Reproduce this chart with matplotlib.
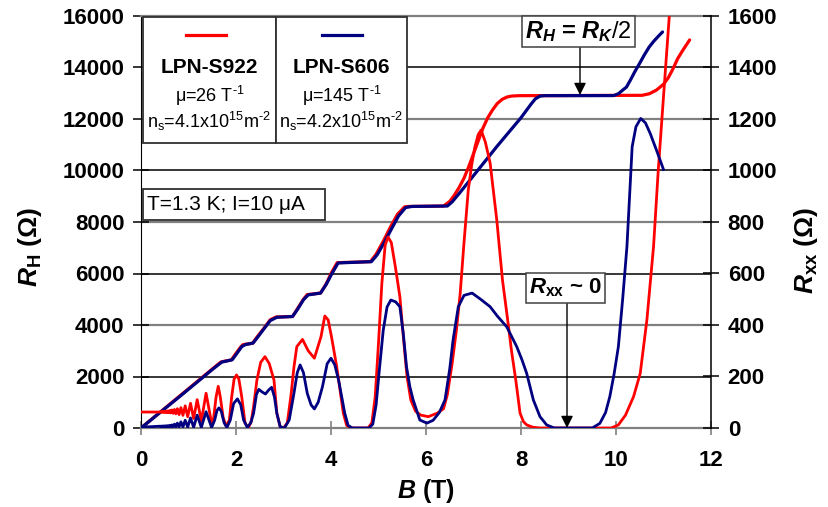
import matplotlib
matplotlib.use("Agg")
import matplotlib.pyplot as plt
from matplotlib.patches import Rectangle

plt.rcParams['font.family'] = ['Liberation Sans', 'DejaVu Sans']
plt.rcParams['mathtext.fontset'] = 'custom'
plt.rcParams['mathtext.rm'] = 'Liberation Sans'
plt.rcParams['mathtext.it'] = 'Liberation Sans:bold:italic'
plt.rcParams['mathtext.bf'] = 'Liberation Sans:bold'

RED = '#FF0000'
BLUE = '#000080'

# ---------------- data ----------------
B_RH_red = [0, 0.4, 0.8, 1.2, 1.5, 1.68, 1.75, 1.9, 2.0, 2.1, 2.15, 2.35, 2.45, 2.6, 2.72, 2.84, 3.19,
            3.3, 3.42, 3.5, 3.78, 3.9, 4.0, 4.13, 4.83, 4.95, 5.1, 5.25, 5.4, 5.55, 5.65, 6.37, 6.5,
            6.6, 6.7, 6.8, 6.9, 7.0, 7.1, 7.2, 7.3, 7.4, 7.5, 7.6, 7.7, 7.8, 7.95, 10.55, 10.7, 10.85,
            11.0, 11.1, 11.2, 11.3, 11.4, 11.55]
RH_red = [0, 610, 1220, 1830, 2290, 2560, 2590, 2640, 2900, 3150, 3240, 3290, 3550, 3900, 4200, 4310, 4330,
          4650, 5000, 5180, 5240, 5600, 6000, 6420, 6460, 6750, 7250, 7800, 8300, 8590, 8604, 8620, 8800,
          9050, 9350, 9700, 10150, 10650, 11150, 11650, 12050, 12350, 12600, 12760, 12850, 12890, 12906,
          12920, 12980, 13120, 13350, 13600, 13950, 14350, 14650, 15070]

B_RH_blue = [0, 0.4, 0.8, 1.2, 1.5, 1.7, 1.8, 1.92, 2.02, 2.12, 2.2, 2.36, 2.47, 2.6, 2.72, 2.86, 3.19,
             3.3, 3.42, 3.52, 3.78, 3.9, 4.02, 4.15, 4.85, 4.97, 5.12, 5.27, 5.42, 5.57, 5.7, 6.45, 6.55,
             6.7, 7.0, 7.5, 8.0, 8.2, 8.3, 8.4, 8.5, 9.95, 10.05, 10.14, 10.22, 10.3, 10.4, 10.5, 10.6,
             10.7, 10.8, 10.9, 10.98]
RH_blue = [0, 600, 1200, 1810, 2270, 2560, 2600, 2650, 2900, 3160, 3240, 3300, 3560, 3880, 4170, 4300, 4330,
           4620, 4980, 5170, 5240, 5580, 6000, 6410, 6460, 6720, 7200, 7720, 8230, 8560, 8604, 8620, 8780,
           9110, 9800, 10950, 12050, 12550, 12780, 12890, 12906, 12910, 12980, 13120, 13240, 13500, 13850,
           14170, 14500, 14800, 15030, 15230, 15380]

B_Rxx_red = [0, 0.15, 0.3, 0.38,
             0.407, 0.417, 0.427, 0.438, 0.449, 0.461, 0.474, 0.487, 0.501, 0.516, 0.532, 0.549,
             0.567, 0.586, 0.606, 0.628, 0.651, 0.677, 0.704, 0.734, 0.766, 0.802, 0.840, 0.883,
             0.930, 0.983, 1.042, 1.108, 1.183, 1.270, 1.370, 1.487,
             1.53, 1.58, 1.626, 1.67, 1.73, 1.794, 1.86, 1.91, 1.96, 2.01, 2.06, 2.12, 2.19, 2.26,
             2.32, 2.37, 2.44, 2.52, 2.61, 2.7, 2.8, 2.86, 2.93, 3.0, 3.08, 3.16, 3.22, 3.28, 3.40,
             3.52, 3.65, 3.79, 3.87, 3.94, 4.01, 4.12, 4.26, 4.33, 4.42, 4.78, 4.86, 4.93, 5.0, 5.07,
             5.14, 5.2, 5.27, 5.36, 5.45, 5.52, 5.6, 5.68, 5.78, 5.89, 6.05, 6.24, 6.37, 6.45, 6.55,
             6.64, 6.72, 6.8, 6.89, 6.96, 7.03, 7.1, 7.16, 7.25, 7.35, 7.49, 7.61, 7.72, 7.8, 7.89,
             7.98, 8.05, 8.12, 8.25, 8.4, 9.9, 10.05, 10.2, 10.37, 10.51, 10.65, 10.79, 10.89, 11.0,
             11.13]
Rxx_red = [62, 62, 62, 62,
           62.5, 61.8, 63, 61.6, 63.5, 61.3, 64, 61, 64.5, 60.5, 65.5, 60,
           66.5, 59.5, 68, 58.5, 70, 57, 72, 55, 75, 52, 79, 49,
           86, 44, 96, 37, 110, 27, 135, 18,
           40, 120, 162, 120, 40, 7, 31, 122, 190, 206, 190, 122, 19, 1,
           25, 83, 186, 255, 277, 250, 186, 57, 5, 0, 20, 130, 237, 316, 344,
           300, 271, 355, 435, 420, 355, 238, 57, 10, 0, 0, 20, 120, 330, 560,
           710, 742, 720, 620, 510, 360, 200, 109, 65, 50, 44, 58, 75, 130, 250,
           380, 523, 720, 924, 1020, 1092, 1140, 1157, 1110, 1029, 808, 575, 419, 300, 186,
           58, 25, 12, 3, 0, 0, 12, 50, 122, 212, 419, 704, 1002, 1287,
           1620]

B_Rxx_blue = [0, 0.2, 0.3,
              0.407, 0.417, 0.427, 0.438, 0.449, 0.461, 0.474, 0.487, 0.501, 0.516, 0.532, 0.549,
              0.567, 0.586, 0.606, 0.628, 0.651, 0.677, 0.704, 0.734, 0.766, 0.802, 0.84, 0.883,
              0.93, 0.983, 1.042, 1.108, 1.183, 1.27, 1.37, 1.487,
              1.55, 1.6, 1.64, 1.69, 1.75, 1.81, 1.88, 1.95, 2.03, 2.1, 2.16, 2.24, 2.31, 2.37, 2.43,
              2.48, 2.55, 2.62, 2.69, 2.75, 2.81, 2.86, 2.93, 3.02, 3.12, 3.22, 3.29, 3.35, 3.42, 3.5,
              3.58, 3.65, 3.73, 3.82, 3.92, 4.0, 4.08, 4.16, 4.29, 4.36, 4.45, 4.8, 4.88, 4.95, 5.02,
              5.1, 5.18, 5.26, 5.36, 5.45, 5.52, 5.59, 5.66, 5.73, 5.87, 6.02, 6.15, 6.28, 6.4, 6.5,
              6.57, 6.68, 6.8, 6.97, 7.15, 7.35, 7.5, 7.7, 7.91, 8.02, 8.12, 8.26, 8.4, 8.54, 8.7,
              9.5, 9.66, 9.78, 9.87, 9.96, 10.05, 10.14, 10.23, 10.3, 10.34, 10.42, 10.52, 10.62,
              10.72, 10.86, 11.0]
Rxx_blue = [4, 5, 6,
            7, 5, 7.2, 5, 7.5, 5, 7.8, 5, 8, 5, 8.5, 5,
            9, 5, 10, 5, 12, 5, 15, 4.5, 19, 4, 24, 4,
            30, 3.5, 39, 3, 50, 2.5, 63, 2,
            30, 68, 78, 65, 20, 2, 31, 95, 113, 90, 31, 2, 20, 57, 130,
            150, 140, 132, 148, 158, 120, 57, 5, 0, 31, 135, 215, 245, 215, 135,
            90, 74, 100, 160, 250, 271, 245, 186, 57, 10, 0, 0, 15, 90, 230,
            380, 470, 497, 490, 471, 370, 238, 160, 109, 31, 19, 30, 60, 109, 230,
            342, 471, 515, 524, 500, 471, 435, 393, 316, 265, 212, 109, 44, 12, 0,
            0, 18, 60, 122, 210, 316, 500, 704, 950, 1092, 1170, 1202, 1185,
            1144, 1075, 1004]

x_ticks = [0, 2, 4, 6, 8, 10, 12]
y_ticks_left = [0, 2000, 4000, 6000, 8000, 10000, 12000, 14000, 16000]
y_ticks_right = [0, 200, 400, 600, 800, 1000, 1200, 1400, 1600]

# ---------------- figure ----------------
W, H = 829, 507
fig = plt.figure(figsize=(W / 100, H / 100), dpi=100)
L, R, T, Bt = 141, 711, 16, 428
ax = fig.add_axes([L / W, 1 - Bt / H, (R - L) / W, (Bt - T) / H])
ax2 = ax.twinx()

ax.set_xlim(0, 12)
ax.set_ylim(0, 16000)
ax2.set_ylim(0, 1600)

# grid lines: alternating black / gray
for v in [2000, 6000, 10000, 14000]:
    ax.axhline(v, color='black', lw=1.1, zorder=0.5)
for v in [4000, 8000, 12000]:
    ax.axhline(v, color='#808080', lw=1.6, zorder=0.5)

ax.plot(B_RH_red, RH_red, color=RED, lw=2.3, zorder=2, solid_capstyle='round')
ax.plot(B_RH_blue, RH_blue, color=BLUE, lw=2.3, zorder=3, solid_capstyle='round')
ax2.plot(B_Rxx_red, Rxx_red, color=RED, lw=2.0, zorder=2)
ax2.plot(B_Rxx_blue, Rxx_blue, color=BLUE, lw=2.0, zorder=3)

# spines
ax.spines['left'].set_color('black')
ax.spines['bottom'].set_color('#808080')
ax.spines['bottom'].set_linewidth(1.6)
ax.spines['top'].set_color('#808080')
ax.spines['top'].set_linewidth(1.6)
ax.spines['right'].set_visible(False)
ax2.spines['right'].set_color('black')
ax2.spines['right'].set_linewidth(1.1)
ax2.spines['top'].set_visible(False)
ax2.spines['left'].set_visible(False)
ax2.spines['bottom'].set_visible(False)

ax.set_xticks(x_ticks)
ax.set_xticklabels([str(t) for t in x_ticks], fontsize=16, fontweight='bold')
ax.set_yticks(y_ticks_left)
ax.set_yticklabels([str(t) for t in y_ticks_left], fontsize=16, fontweight='bold')
ax2.set_yticks(y_ticks_right)
ax2.set_yticklabels([str(t) for t in y_ticks_right], fontsize=16, fontweight='bold')

ax.tick_params(axis='x', direction='inout', length=10, width=1.2, color='#808080', pad=11)
ax.tick_params(axis='y', direction='inout', length=12, width=1.1, color='black', pad=6)
ax2.tick_params(axis='y', direction='inout', length=12, width=1.1, color='black', pad=6)

# axis labels
fig.text(30 / W, 1 - 247 / H, r'$R_{\mathbf{H}}$ (Ω)', rotation=90, ha='center', va='center',
         fontsize=19, fontweight='bold')
fig.text(806 / W, 1 - 250 / H, r'$R_{\mathbf{xx}}$ (Ω)', rotation=90, ha='center', va='center',
         fontsize=19, fontweight='bold')
fig.text(426 / W, 1 - 491 / H, r'$B$ (T)', ha='center', va='center', fontsize=18, fontweight='bold')

# ---------------- boxes ----------------
def px2d(xp, yp):
    return (xp - L) / (R - L) * 12, (Bt - yp) / (Bt - T) * 1600

def box(x0p, y0p, x1p, y1p, lw=1.3, ec='#303030'):
    x0, y0 = px2d(x0p, y1p)
    x1, y1 = px2d(x1p, y0p)
    ax2.add_patch(Rectangle((x0, y0), x1 - x0, y1 - y0, facecolor='white', edgecolor=ec,
                            lw=lw, zorder=10, clip_on=False))

box(143, 17, 276, 143)
box(276, 17, 407, 143)

# legend sample lines
for (xa, xb), col in [((186, 226), RED), ((322, 362), BLUE)]:
    p0 = px2d(xa, 35)
    p1 = px2d(xb, 35)
    ax2.plot([p0[0], p1[0]], [p0[1], p1[1]], color=col, lw=2.3, zorder=11, clip_on=False)

def ptext(xp, yp, s, **kw):
    x, y = px2d(xp, yp)
    ax2.text(x, y, s, zorder=12, **kw)

ptext(209.5, 68, 'LPN-S922', ha='center', va='center', fontsize=15, fontweight='bold')
ptext(341.5, 68, 'LPN-S606', ha='center', va='center', fontsize=15, fontweight='bold')
ptext(209.5, 96, r'μ=26 T$^{\text{-}\mathrm{1}}$', ha='center', va='center', fontsize=13)
ptext(341.5, 96, r'μ=145 T$^{\text{-}\mathrm{1}}$', ha='center', va='center', fontsize=13)
ptext(209.5, 121, r'n$_{\mathrm{s}}$=4.1x10$^{\mathrm{15}}$m$^{\text{-}\mathrm{2}}$', ha='center', va='center', fontsize=13)
ptext(341.5, 121, r'n$_{\mathrm{s}}$=4.2x10$^{\mathrm{15}}$m$^{\text{-}\mathrm{2}}$', ha='center', va='center', fontsize=13)

box(143, 189, 325, 220)
ptext(147, 205, 'T=1.3 K; I=10 μA', ha='left', va='center', fontsize=15)

# annotation R_H = R_K/2
box(522, 16, 635, 47, lw=1.1, ec='#404040')
ptext(578.5, 32, r'$R_{H}$ = $R_{K}\mathit{/2}$', ha='center', va='center', fontsize=17,
      fontweight='bold')
a0 = px2d(580, 48)
a1 = px2d(580, 95)
ax2.annotate('', xy=a1, xytext=a0, zorder=12,
             arrowprops=dict(arrowstyle='-|>', color='black', lw=1.0, mutation_scale=18,
                             shrinkA=0, shrinkB=0))

# annotation Rxx ~ 0
box(526, 273, 605, 303, lw=1.1, ec='#404040')
ptext(565.5, 288, r'$R_{\mathbf{xx}}$ ~ 0', ha='center', va='center', fontsize=16, fontweight='bold')
b0 = px2d(567, 304)
b1 = px2d(567, 428)
ax2.annotate('', xy=b1, xytext=b0, zorder=12,
             arrowprops=dict(arrowstyle='-|>', color='black', lw=1.0, mutation_scale=18,
                             shrinkA=0, shrinkB=0))

fig.savefig('out.png', dpi=100)
